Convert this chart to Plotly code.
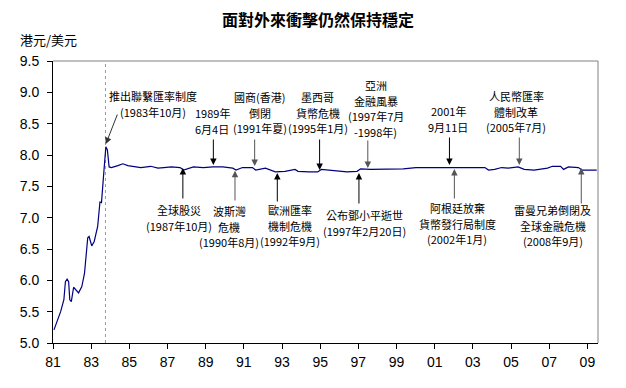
import plotly.graph_objects as go

# ---- data ----
years = [1981.05, 1981.22, 1981.40, 1981.57, 1981.65, 1981.74, 1981.82, 1981.88, 1981.96,
         1982.08, 1982.34, 1982.51, 1982.65, 1982.82, 1982.89, 1983.03, 1983.16, 1983.34,
         1983.46, 1983.54, 1983.59, 1983.68, 1983.77, 1983.85, 1983.94, 1984.06, 1984.40,
         1984.66, 1984.92, 1985.30, 1985.60, 1986.12, 1986.50, 1986.81, 1987.20, 1987.66,
         1987.84, 1988.36, 1988.87, 1989.39, 1989.90, 1990.42, 1990.59, 1990.93, 1991.45,
         1991.62, 1992.13, 1992.65, 1993.16, 1993.68, 1993.84, 1994.40, 1994.87, 1995.06,
         1995.90, 1996.40, 1996.93, 1997.12, 1997.63, 1998.47, 1999.35, 2000.02, 2000.54,
         2001.76, 2003.63, 2003.82, 2004.14, 2004.51, 2004.85, 2005.37, 2005.69, 2006.21,
         2006.91, 2007.17, 2007.60, 2007.75, 2008.01, 2008.53, 2008.72, 2009.49]
rates = [5.21, 5.34, 5.50, 5.69, 5.98, 6.02, 5.98, 5.69, 5.66,
         5.89, 5.80, 5.90, 6.11, 6.68, 6.70, 6.55, 6.62, 6.86,
         7.25, 7.24, 7.50, 7.79, 8.13, 8.08, 7.81, 7.80, 7.83,
         7.86, 7.83, 7.81, 7.80, 7.82, 7.79, 7.80, 7.81, 7.80,
         7.76, 7.81, 7.80, 7.81, 7.81, 7.79, 7.76, 7.80, 7.80,
         7.76, 7.79, 7.73, 7.74, 7.77, 7.74, 7.73, 7.73, 7.77,
         7.74, 7.73, 7.74, 7.78, 7.77, 7.77, 7.78, 7.80, 7.80,
         7.80, 7.80, 7.76, 7.77, 7.80, 7.79, 7.81, 7.77, 7.76,
         7.79, 7.82, 7.82, 7.77, 7.81, 7.80, 7.76, 7.76]

x_tick_years = list(range(1981, 2010, 2))
x_tick_labels = ["81", "83", "85", "87", "89", "91", "93", "95", "97", "99",
                 "01", "03", "05", "07", "09"]
y_ticks = [5.0, 5.5, 6.0, 6.5, 7.0, 7.5, 8.0, 8.5, 9.0, 9.5]
y_tick_labels = ["5.0", "5.5", "6.0", "6.5", "7.0", "7.5", "8.0", "8.5", "9.0", "9.5"]
peg_year = 1983.75

event_texts = [
    ["推出聯繫匯率制度", "(1983年10月)"],
    ["1989年", "6月4日"],
    ["國商(香港)", "倒閉", "(1991年夏)"],
    ["墨西哥", "貨幣危機", "(1995年1月)"],
    ["亞洲", "金融風暴", "(1997年7月", "-1998年)"],
    ["2001年", "9月11日"],
    ["人民幣匯率", "體制改革", "(2005年7月)"],
    ["全球股災", "(1987年10月)"],
    ["波斯灣", "危機", "(1990年8月)"],
    ["歐洲匯率", "機制危機", "(1992年9月)"],
    ["公布鄧小平逝世", "(1997年2月20日)"],
    ["阿根廷放棄", "貨幣發行局制度", "(2002年1月)"],
    ["雷曼兄弟倒閉及", "全球金融危機", "(2008年9月)"],
]

# ---- layout geometry (page pixels; the page body adds an 8px offset) ----
PAGE_W, PAGE_H = 626, 388
OFF = 8
L, R, T, B = 44, 598, 61, 343
X0, X1 = 1981.0, 1981.0 + (R - L) / 19.4
Y0, Y1 = 5.0, 9.5
FIG_W, FIG_H = PAGE_W - OFF, PAGE_H - OFF
LINE_STEP = 15.5


def px2x(px):
    return X0 + (px - L) / (R - L) * (X1 - X0)


def py2y(py):
    return Y1 - (py - T) / (B - T) * (Y1 - Y0)


def px2paper(px):
    return (px - L) / (R - L)


def py2paper(py):
    return (B - py) / (B - T)


# text block centre x and first-line y (px); arrow tail/head (px), colour
text_pos = [(145.5, 96), (206, 113), (254, 97), (313, 97), (372, 85), (446, 111),
            (515, 96), (172, 210), (223, 211), (285, 210), (361, 215), (455, 208),
            (552, 210)]
arrows = [((110, 113), (97.7, 144), "#333333"),
          ((207, 138), (207, 165), "#000000"),
          ((249, 138), (249, 166), "#555555"),
          ((315, 138), (315, 170), "#000000"),
          ((364, 139), (364, 168), "#555555"),
          ((447, 136), (447, 165), "#000000"),
          ((518, 136), (518, 165), "#555555"),
          ((176, 200), (176, 168), "#000000"),
          ((229, 202), (229, 170.7), "#555555"),
          ((272, 203), (272, 173), "#000000"),
          ((355, 205), (355, 173), "#000000"),
          ((452, 200), (452, 169), "#555555"),
          ((581, 205), (581, 168), "#555555")]

fig = go.Figure()
fig.add_trace(go.Scatter(x=years, y=rates, mode="lines",
                         line=dict(color="#000080", width=1.2),
                         hoverinfo="skip", showlegend=False))

annotations = []
for lines, (cx, cy0) in zip(event_texts, text_pos):
    for i, line in enumerate(lines):
        annotations.append(dict(x=px2x(cx), y=py2y(cy0 + i * LINE_STEP), xref="x", yref="y",
                                text=line, showarrow=False, xanchor="center",
                                yanchor="middle", borderpad=0,
                                font=dict(family="Noto Sans CJK TC", size=11,
                                          color="#000000")))
for (tail, head, col) in arrows:
    annotations.append(dict(x=px2x(head[0]), y=py2y(head[1]), xref="x", yref="y",
                            ax=px2x(tail[0]), ay=py2y(tail[1]), axref="x", ayref="y",
                            text="", showarrow=True, arrowhead=2, arrowsize=1.3,
                            arrowwidth=1, arrowcolor=col, standoff=0, startstandoff=0))

annotations.append(dict(x=px2paper(8), y=py2paper(39), xref="paper", yref="paper",
                        text="港元/美元", showarrow=False, xanchor="left", yanchor="middle",
                        font=dict(family="Noto Sans CJK TC", size=13, color="#000000")))

shapes = [
    dict(type="line", xref="x", yref="y", x0=peg_year, x1=peg_year, y0=Y0, y1=Y1,
         line=dict(color="#999999", width=1, dash="dot"), layer="below"),
    dict(type="line", xref="paper", yref="paper", x0=0, x1=1, y0=1, y1=1,
         line=dict(color="#808080", width=1)),
    dict(type="line", xref="paper", yref="paper", x0=1, x1=1, y0=0, y1=1,
         line=dict(color="#808080", width=1)),
]

fig.update_layout(
    width=FIG_W, height=FIG_H,
    margin=dict(l=L - OFF, r=PAGE_W - R, t=T - OFF, b=PAGE_H - B, pad=0),
    paper_bgcolor="white", plot_bgcolor="white",
    title=dict(text="<b>面對外來衝擊仍然保持穩定</b>",
               x=(318 - OFF) / FIG_W, xanchor="center", xref="container",
               y=1 - (20 - OFF) / FIG_H, yanchor="middle", yref="container",
               font=dict(family="Noto Sans CJK TC", size=16, color="#000000")),
    annotations=annotations, shapes=shapes,
    showlegend=False,
    xaxis=dict(range=[X0, X1], tickvals=x_tick_years, ticktext=x_tick_labels,
               showgrid=False, zeroline=False, showline=True, linecolor="#000000",
               linewidth=1, ticks="outside", ticklen=5, tickcolor="#000000",
               ticklabelstandoff=1,
               tickfont=dict(family="Liberation Sans", size=14, color="#000000")),
    yaxis=dict(range=[Y0, Y1], tickvals=y_ticks, ticktext=y_tick_labels,
               showgrid=False, zeroline=False, showline=True, linecolor="#000000",
               linewidth=1, ticks="outside", ticklen=5, tickcolor="#000000",
               ticklabelstandoff=5,
               tickfont=dict(family="Liberation Sans", size=14, color="#000000")),
)

fig.write_html("out.html")
